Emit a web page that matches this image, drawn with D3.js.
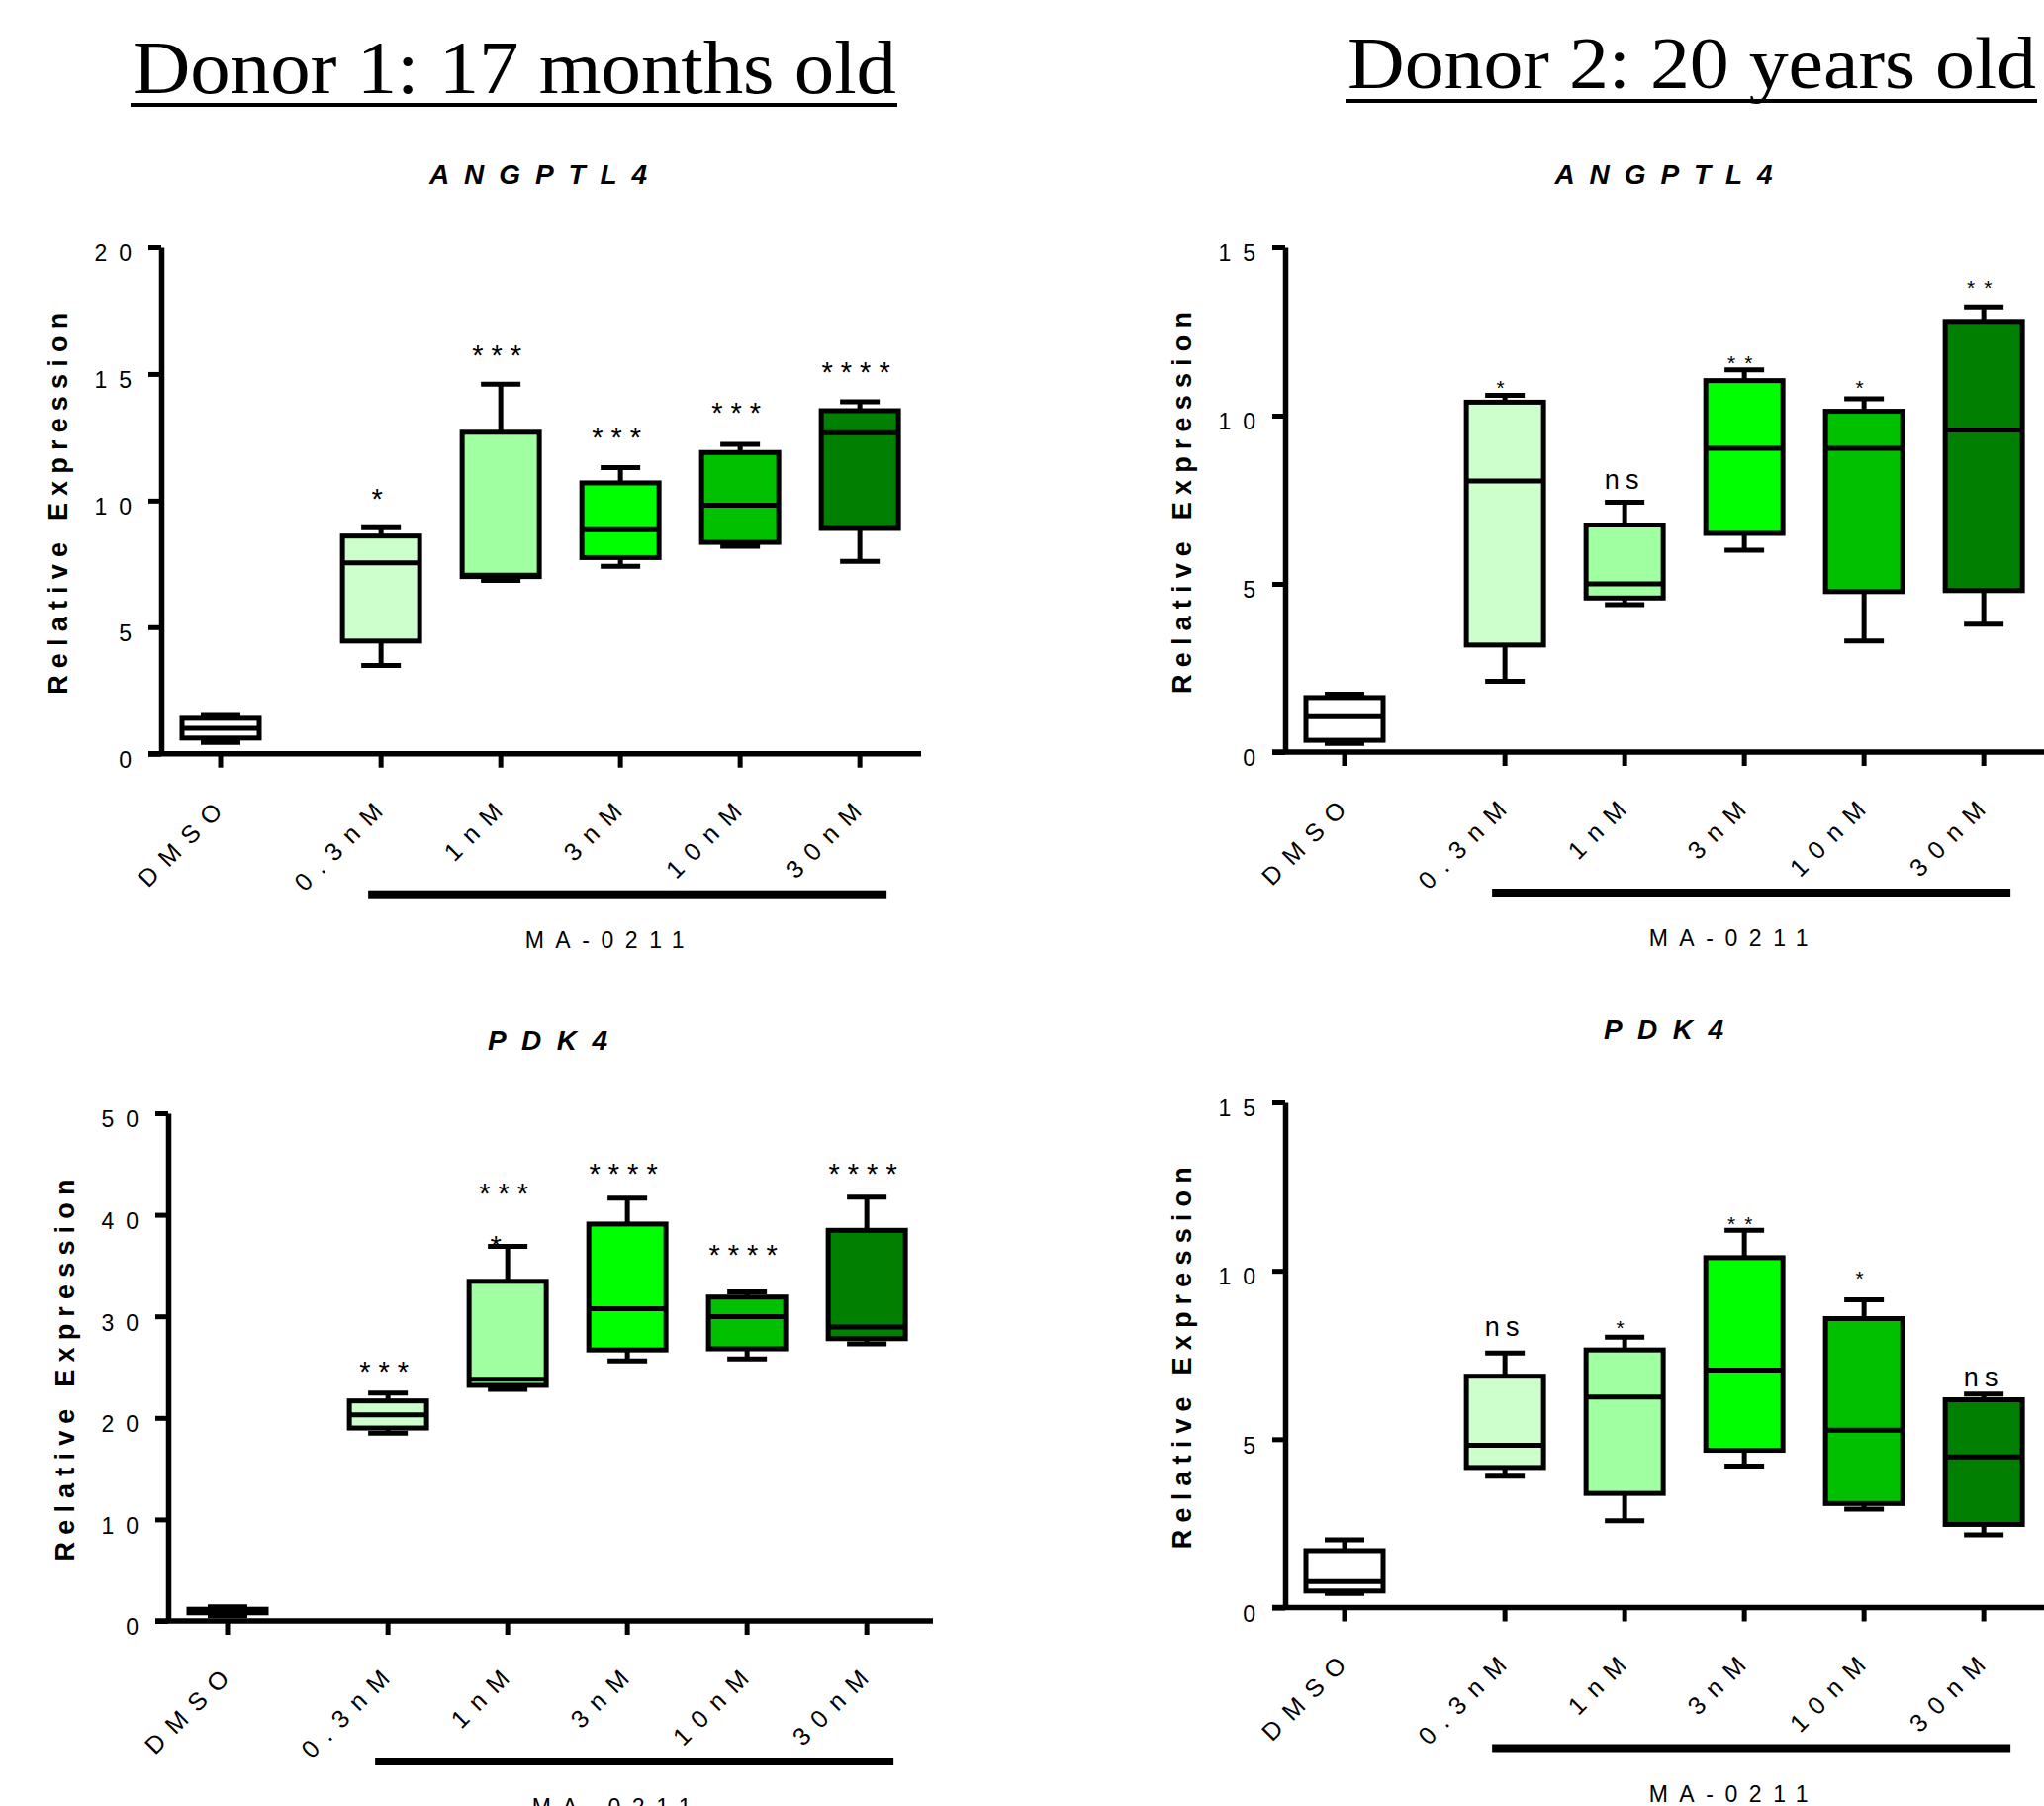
<!DOCTYPE html>
<html>
<head>
<meta charset="utf-8">
<script src="https://cdnjs.cloudflare.com/ajax/libs/d3/7.8.5/d3.min.js"></script>
<style>
body { margin: 0; background: #fff; }
svg text { font-family: "Liberation Sans", Arial, sans-serif; fill: #000; }
</style>
</head>
<body>
<div id="chart"></div>
<script>

// ---- data ----
var categories = ["DMSO", "0.3nM", "1nM", "3nM", "10nM", "30nM"];
var drugName = "MA-0211";
var donorTitles = ["Donor 1: 17 months old", "Donor 2: 20 years old"];
var yLabel = "Relative Expression";

// donor 1, ANGPTL4
var angD1Min = [0.45, 3.49, 6.85, 7.40, 8.20, 7.60];
var angD1Q1  = [0.62, 4.45, 7.00, 7.75, 8.35, 8.90];
var angD1Med = [1.00, 7.54, 7.05, 8.85, 9.82, 12.68];
var angD1Q3  = [1.40, 8.60, 12.70, 10.70, 11.90, 13.55];
var angD1Max = [1.55, 8.93, 14.60, 11.30, 12.22, 13.90];
var angD1Sig   = ["", "*", "***", "***", "***", "****"];
var angD1SigAt = [0, 10.33, 16.01, 12.78, 13.74, 15.35];

// donor 2, ANGPTL4
var angD2Min = [0.26, 2.10, 4.38, 6.00, 3.30, 3.80];
var angD2Q1  = [0.35, 3.18, 4.58, 6.50, 4.77, 4.80];
var angD2Med = [1.05, 8.06, 5.00, 9.03, 9.03, 9.57];
var angD2Q3  = [1.62, 10.40, 6.75, 11.04, 10.13, 12.80];
var angD2Max = [1.72, 10.60, 7.43, 11.36, 10.50, 13.23];
var angD2Sig   = ["", "*", "ns", "**", "*", "**"];
var angD2SigAt = [0, 10.99, 8.02, 11.70, 10.99, 13.95];

// donor 1, PDK4
var pdkD1Min = [0.50, 18.49, 22.80, 25.60, 25.80, 27.30];
var pdkD1Q1  = [0.80, 19.00, 23.20, 26.69, 26.80, 27.80];
var pdkD1Med = [0.95, 20.29, 23.80, 30.74, 29.97, 28.94];
var pdkD1Q3  = [1.15, 21.67, 33.45, 39.09, 31.90, 38.47];
var pdkD1Max = [1.40, 22.44, 36.90, 41.65, 32.40, 41.75];
var pdkD1Sig   = ["", "***", "***", "****", "****", "****"];
var pdkD1SigAt = [0, 25.26, 42.78, 44.72, 36.68, 44.72];
var pdkD1Stray   = ["", "", "*", "", "", ""];   // stray star sitting on the 1nM whisker
var pdkD1StrayAt = [0, 0, 37.6, 0, 0, 0];

// donor 2, PDK4
var pdkD2Min = [0.42, 3.90, 2.58, 4.20, 2.92, 2.16];
var pdkD2Q1  = [0.49, 4.16, 3.39, 4.67, 3.09, 2.47];
var pdkD2Med = [0.77, 4.82, 6.25, 7.05, 5.27, 4.47];
var pdkD2Q3  = [1.69, 6.87, 7.65, 10.39, 8.58, 6.17];
var pdkD2Max = [2.01, 7.56, 8.03, 11.20, 9.14, 6.34];
var pdkD2Sig   = ["", "ns", "*", "**", "*", "ns"];
var pdkD2SigAt = [0, 8.27, 8.46, 11.55, 9.93, 6.76];

// box fills, one per column
var boxColors = ["#ffffff", "#ccffcc", "#a0ffa0", "#00ff00", "#00c000", "#007f00"];

var svg = d3.select("#chart").append("svg")
    .attr("width", 2066)
    .attr("height", 1825);

// big donor titles, underlined
function donorTitle(txt, x, y, size, len, lineY) {
    svg.append("text")
        .attr("x", x).attr("y", y)
        .style("font-family", "'Liberation Serif', 'Times New Roman', serif")
        .attr("font-size", size)
        .attr("textLength", len)
        .attr("lengthAdjust", "spacingAndGlyphs")
        .text(txt);
    svg.append("rect")
        .attr("x", x - 2).attr("y", lineY)
        .attr("width", len + 3).attr("height", 4)
        .attr("fill", "#000");
}
donorTitle(donorTitles[0], 134, 94, 76, 772, 104);
donorTitle(donorTitles[1], 1362, 89, 73, 696, 100);

function drawPanel(p) {
    var g = svg.append("g");

    // dose columns sit a bit further from DMSO than from each other
    var x = d3.scaleLinear().domain([0, 1]).range([p.ax + 60, p.ax + 60 + 121]);
    var pos = function(i) { return x(i == 0 ? 0 : i + 0.34); };
    var y = d3.scaleLinear().domain([0, p.yMax]).range([p.bottom, p.top]);

    // gene title
    g.append("text")
        .attr("x", (p.ax + p.right) / 2 - 3)
        .attr("y", p.top - 64)
        .attr("text-anchor", "middle")
        .attr("font-size", 28)
        .attr("font-weight", "bold")
        .attr("font-style", "italic")
        .attr("textLength", p.titleLen)
        .attr("lengthAdjust", "spacing")
        .text(p.gene);

    // y axis
    var yAxis = d3.axisLeft(y)
        .tickValues(p.ticks)
        .tickSize(13)
        .tickSizeOuter(0)
        .tickPadding(5);
    var ya = g.append("g")
        .attr("transform", "translate(" + p.ax + ",0)")
        .call(yAxis);
    ya.select(".domain").attr("stroke-width", 5.5);
    ya.selectAll(".tick line").attr("stroke-width", 5);
    ya.selectAll(".tick text")
        .attr("font-size", 23)
        .attr("dy", "0.6em")
        .style("letter-spacing", "12px")
        .style("font-family", "'Liberation Sans', Arial, sans-serif");

    // y title
    g.append("text")
        .attr("transform", "translate(" + (p.ax - 95) + "," + ((p.top + p.bottom) / 2 + 3) + ") rotate(-90)")
        .attr("text-anchor", "middle")
        .attr("font-size", 27)
        .attr("font-weight", "bold")
        .attr("textLength", 386)
        .attr("lengthAdjust", "spacing")
        .text(yLabel);

    // x axis line + ticks
    g.append("line")
        .attr("x1", p.ax - 13).attr("x2", p.right)
        .attr("y1", y(0)).attr("y2", y(0))
        .attr("stroke", "#000").attr("stroke-width", 5.5);
    g.selectAll(".xtick").data(categories).enter().append("line")
        .attr("x1", (d, i) => pos(i)).attr("x2", (d, i) => pos(i))
        .attr("y1", y(0)).attr("y2", y(0) + 14)
        .attr("stroke", "#000").attr("stroke-width", 5);

    // slanted category labels
    g.selectAll(".xlab").data(categories).enter().append("text")
        .attr("transform", (d, i) => "translate(" + (pos(i) + 3) + "," + (y(0) + 60) + ") rotate(-45)")
        .attr("x", 11)
        .attr("text-anchor", "end")
        .attr("font-size", 25)
        .style("letter-spacing", "11px")
        .text(d => d);

    // whiskers
    var bw = 78, cw = 40;
    var boxes = g.selectAll(".box").data(categories).enter().append("g");
    boxes.append("line")
        .attr("x1", (d, i) => pos(i)).attr("x2", (d, i) => pos(i))
        .attr("y1", (d, i) => y(p.max[i])).attr("y2", (d, i) => y(p.min[i]))
        .attr("stroke", "#000").attr("stroke-width", 5);
    boxes.append("line")
        .attr("x1", (d, i) => pos(i) - cw / 2).attr("x2", (d, i) => pos(i) + cw / 2)
        .attr("y1", (d, i) => y(p.max[i])).attr("y2", (d, i) => y(p.max[i]))
        .attr("stroke", "#000").attr("stroke-width", 5);
    boxes.append("line")
        .attr("x1", (d, i) => pos(i) - cw / 2).attr("x2", (d, i) => pos(i) + cw / 2)
        .attr("y1", (d, i) => y(p.min[i])).attr("y2", (d, i) => y(p.min[i]))
        .attr("stroke", "#000").attr("stroke-width", 5);
    // box
    boxes.append("rect")
        .attr("x", (d, i) => pos(i) - bw / 2)
        .attr("width", bw)
        .attr("y", (d, i) => y(p.q3[i]))
        .attr("height", (d, i) => y(p.q1[i]) - y(p.q3[i]))
        .attr("fill", (d, i) => boxColors[i])
        .attr("stroke", "#000").attr("stroke-width", 5);
    // median
    boxes.append("line")
        .attr("x1", (d, i) => pos(i) - bw / 2).attr("x2", (d, i) => pos(i) + bw / 2)
        .attr("y1", (d, i) => y(p.med[i])).attr("y2", (d, i) => y(p.med[i]))
        .attr("stroke", "#000").attr("stroke-width", 5);

    // significance marks
    function sigText(labels, at, shift) {
        labels.forEach(function(lab, i) {
            if (!lab) return;
            var star = lab.charAt(0) == "*";
            var fs = star ? p.starFs : 27;
            var ls = star ? p.starLs : 6;
            g.append("text")
                .attr("x", pos(i) + shift + (star ? 0 : ls / 2 - 3))
                .attr("y", y(at[i]) + (star ? 0.58 : 0.26) * fs)
                .attr("text-anchor", "middle")
                .attr("font-size", fs)
                .style("letter-spacing", ls + "px")
                .text(lab);
        });
    }
    sigText(p.sig, p.sigAt, 0);
    if (p.stray) sigText(p.stray, p.strayAt, -8);

    // drug bar + label
    g.append("rect")
        .attr("x", pos(1) - 13).attr("width", pos(5) - pos(1) + 40)
        .attr("y", y(0) + 138).attr("height", 8)
        .attr("fill", "#000");
    g.append("text")
        .attr("x", (pos(1) + pos(5)) / 2 - 16 - 80.5)
        .attr("y", y(0) + 196)
        .attr("font-size", 23)
        .attr("textLength", 161)
        .attr("lengthAdjust", "spacing")
        .text(drugName);
}

drawPanel({gene: "ANGPTL4", titleLen: 220, ax: 163, top: 250, bottom: 761.7, right: 931,
    yMax: 20, ticks: [0, 5, 10, 15, 20], starFs: 29, starLs: 8,
    min: angD1Min, q1: angD1Q1, med: angD1Med, q3: angD1Q3, max: angD1Max,
    sig: angD1Sig, sigAt: angD1SigAt});

drawPanel({gene: "ANGPTL4", titleLen: 220, ax: 1299, top: 250, bottom: 760, right: 2070,
    yMax: 15, ticks: [0, 5, 10, 15], starFs: 21, starLs: 9,
    min: angD2Min, q1: angD2Q1, med: angD2Med, q3: angD2Q3, max: angD2Max,
    sig: angD2Sig, sigAt: angD2SigAt});

drawPanel({gene: "PDK4", titleLen: 121, ax: 170, top: 1125, bottom: 1638, right: 943,
    yMax: 50, ticks: [0, 10, 20, 30, 40, 50], starFs: 29, starLs: 8,
    min: pdkD1Min, q1: pdkD1Q1, med: pdkD1Med, q3: pdkD1Q3, max: pdkD1Max,
    sig: pdkD1Sig, sigAt: pdkD1SigAt, stray: pdkD1Stray, strayAt: pdkD1StrayAt});

drawPanel({gene: "PDK4", titleLen: 121, ax: 1299, top: 1114, bottom: 1624.5, right: 2070,
    yMax: 15, ticks: [0, 5, 10, 15], starFs: 21, starLs: 9,
    min: pdkD2Min, q1: pdkD2Q1, med: pdkD2Med, q3: pdkD2Q3, max: pdkD2Max,
    sig: pdkD2Sig, sigAt: pdkD2SigAt});

</script>
</body>
</html>
